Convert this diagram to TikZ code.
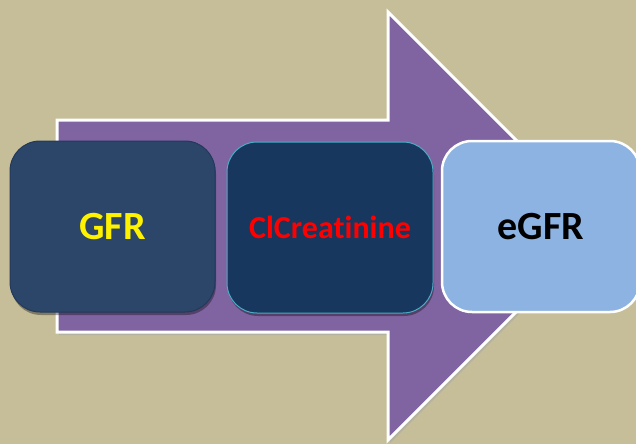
\documentclass[tikz,border=0pt]{standalone}
\usepackage{fontspec}
\setmainfont{Carlito}[Ligatures={NoCommon,NoRare,NoContextual}]
\usetikzlibrary{shadows}
\definecolor{bg}{HTML}{C6BE98}
\definecolor{arrowpurple}{HTML}{8064A2}
\definecolor{gfrbox}{HTML}{2B4669}
\definecolor{clbox}{HTML}{17375E}
\definecolor{clborder}{HTML}{4BACC6}
\definecolor{egfrbox}{HTML}{8DB3E2}
\definecolor{gfrborder}{HTML}{24395A}
\tikzset{
  stagebox/.style={rounded corners=30pt, minimum width=205pt, minimum height=171pt,
    inner sep=0pt, font=\bfseries},
  softshadow/.style={drop shadow={shadow xshift=1pt, shadow yshift=-3pt, fill=black, opacity=0.35}},
}
\begin{document}
\begin{tikzpicture}[x=1pt,y=-1pt]
\useasboundingbox (0,0) rectangle (636,444);
\clip (0,0) rectangle (636,444);
\fill[bg] (0,0) rectangle (636,444);
% big arrow
\fill[black!35, opacity=0.5] (59,123) -- (390,123) -- (390,15) -- (604,229) -- (390,443) -- (390,335) -- (59,335) -- cycle;
\draw[white, line width=3pt, fill=arrowpurple, line join=miter]
  (57,120) -- (388,120) -- (388,12) -- (602,226) -- (388,440) -- (388,332) -- (57,332) -- cycle;
% boxes
\node[stagebox, softshadow, fill=gfrbox, draw=gfrborder, line width=1pt,
  text=yellow, font=\bfseries\fontsize{40}{48}\selectfont] (gfr) at (112.5,226.5) {GFR};
\node[stagebox, softshadow, minimum width=206pt, fill=clbox, draw=clborder, line width=1pt,
  text=red, font=\bfseries\fontsize{32}{38}\selectfont] (cl) at (330,227.5) {ClCreatinine};
\node[stagebox, minimum width=198pt, fill=egfrbox, draw=white, line width=2.5pt,
  text=black, font=\bfseries\fontsize{40}{48}\selectfont] (egfr) at (541,226.5) {eGFR};
\end{tikzpicture}
\end{document}
